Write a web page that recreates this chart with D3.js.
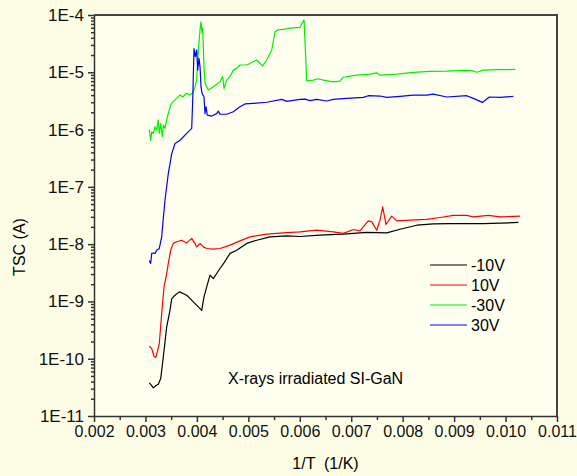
<!DOCTYPE html>
<html>
<head>
<meta charset="utf-8">
<script src="https://cdn.jsdelivr.net/npm/d3@7"></script>
<style>
  body { margin: 0; background: #fdfde6; }
  svg { display: block; font-family: Arial, "Liberation Sans", sans-serif; }
</style>
</head>
<body>
<div id="chart"></div>
<script>
// values: [1/T (1/K), TSC (A)]
var seriesNames = ["-10V", "10V", "-30V", "30V"];
var seriesColors = ["#000000", "#ff0000", "#00ee00", "#0000ff"];
var xTicks = [0.002, 0.003, 0.004, 0.005, 0.006, 0.007, 0.008, 0.009, 0.010, 0.011];
var yTicks = [1e-11, 1e-10, 1e-9, 1e-8, 1e-7, 1e-6, 1e-5, 1e-4];

var minus10V = [
  [0.003075, 3.8e-11], [0.003122, 3.4e-11], [0.003153, 3.1e-11], [0.003205, 3.4e-11],
  [0.003250, 3.57e-11], [0.003297, 4.5e-11], [0.003347, 1.07e-10], [0.003413, 3.6e-10],
  [0.003477, 7.0e-10], [0.003511, 1.12e-9], [0.003575, 1.28e-9], [0.003658, 1.47e-9],
  [0.003730, 1.38e-9], [0.003802, 1.28e-9], [0.003870, 1.12e-9], [0.003930, 9.8e-10],
  [0.004094, 7.0e-10], [0.004138, 1.2e-9], [0.004191, 1.79e-9], [0.004255, 2.87e-9],
  [0.004319, 2.5e-9], [0.004385, 3.07e-9], [0.004449, 3.76e-9], [0.004527, 4.7e-9],
  [0.004644, 6.9e-9], [0.004774, 7.8e-9], [0.004969, 1.03e-8], [0.005163, 1.17e-8],
  [0.005421, 1.34e-8], [0.005746, 1.39e-8], [0.006005, 1.36e-8], [0.006393, 1.44e-8],
  [0.006846, 1.5e-8], [0.007301, 1.6e-8], [0.007690, 1.57e-8], [0.007949, 1.82e-8],
  [0.008273, 2.14e-8], [0.008596, 2.26e-8], [0.008921, 2.28e-8], [0.009568, 2.28e-8],
  [0.009893, 2.32e-8], [0.010249, 2.39e-8]
];

var plus10V = [
  [0.003075, 1.65e-10], [0.003122, 1.5e-10], [0.003166, 1.1e-10], [0.003199, 1.05e-10],
  [0.003230, 1.31e-10], [0.003269, 1.84e-10], [0.003316, 6.15e-10], [0.003361, 1.79e-9],
  [0.003413, 3.07e-9], [0.003444, 4.6e-9], [0.003491, 7.8e-9], [0.003542, 1.03e-8],
  [0.003608, 1.1e-8], [0.003705, 1.17e-8], [0.003802, 1.05e-8], [0.003899, 1.26e-8],
  [0.003963, 1.03e-8], [0.003996, 8.95e-9], [0.004061, 1.03e-8], [0.004125, 8.95e-9],
  [0.004191, 8.4e-9], [0.004319, 8.2e-9], [0.004449, 8.4e-9], [0.004644, 9.6e-9],
  [0.004838, 1.14e-8], [0.005033, 1.34e-8], [0.005357, 1.5e-8], [0.005680, 1.57e-8],
  [0.006005, 1.64e-8], [0.006329, 1.75e-8], [0.006652, 1.64e-8], [0.006846, 1.54e-8],
  [0.007041, 1.8e-8], [0.007171, 1.7e-8], [0.007332, 2.55e-8], [0.007399, 2.45e-8],
  [0.007496, 1.75e-8], [0.007560, 2.62e-8], [0.007612, 4.48e-8], [0.007676, 2.2e-8],
  [0.007787, 3.08e-8], [0.007885, 2.55e-8], [0.008143, 2.62e-8], [0.008468, 2.7e-8],
  [0.008726, 2.92e-8], [0.008985, 3.17e-8], [0.009245, 3.17e-8], [0.009374, 2.99e-8],
  [0.009665, 3.17e-8], [0.009893, 3.0e-8], [0.010282, 3.08e-8]
];

var minus30V = [
  [0.003075, 1.0e-6], [0.003102, 6.5e-7], [0.003122, 9.1e-7], [0.003153, 8.6e-7],
  [0.003186, 1.12e-6], [0.003219, 9.8e-7], [0.003250, 1.47e-6], [0.003269, 8.6e-7],
  [0.003297, 1.28e-6], [0.003328, 7.5e-7], [0.003347, 1.2e-6], [0.003380, 1.05e-6],
  [0.003413, 1.47e-6], [0.003444, 1.9e-6], [0.003491, 2.7e-6], [0.003542, 3.1e-6],
  [0.003608, 3.5e-6], [0.003672, 4.0e-6], [0.003724, 3.7e-6], [0.003802, 4.3e-6],
  [0.003866, 4.0e-6], [0.003919, 4.4e-6], [0.003963, 5.6e-6], [0.003996, 7.3e-6],
  [0.004028, 2.45e-5], [0.004061, 5.5e-5], [0.004080, 7.6e-5], [0.004100, 4.8e-5],
  [0.004113, 5.9e-5], [0.004138, 1.25e-5], [0.004158, 6.4e-6], [0.004222, 4.9e-6],
  [0.004319, 5.6e-6], [0.004449, 6.8e-6], [0.004502, 8.4e-6], [0.004527, 5.2e-6],
  [0.004580, 7.3e-6], [0.004644, 8.4e-6], [0.004708, 1.09e-5], [0.004774, 1.17e-5],
  [0.004838, 1.34e-5], [0.004969, 1.34e-5], [0.005163, 1.64e-5], [0.005280, 1.29e-5],
  [0.005357, 1.64e-5], [0.005455, 2.45e-5], [0.005519, 5.1e-5], [0.005583, 5.5e-5],
  [0.005680, 5.6e-5], [0.005810, 5.9e-5], [0.006005, 6.1e-5], [0.006069, 7.9e-5],
  [0.006083, 8.2e-5], [0.006135, 7.1e-6], [0.006263, 7.3e-6], [0.006360, 7.7e-6],
  [0.006458, 7.3e-6], [0.006652, 6.8e-6], [0.006782, 7.0e-6], [0.006846, 8.2e-6],
  [0.007107, 8.9e-6], [0.007365, 9.3e-6], [0.007496, 9.8e-6], [0.007560, 8.9e-6],
  [0.007885, 9.3e-6], [0.008207, 1.0e-5], [0.008532, 1.04e-5], [0.008857, 1.05e-5],
  [0.009179, 1.08e-5], [0.009343, 1.07e-5], [0.009440, 1.0e-5], [0.009568, 1.09e-5],
  [0.009829, 1.11e-5], [0.010190, 1.12e-5]
];

var plus30V = [
  [0.003075, 5.2e-9], [0.003102, 4.6e-9], [0.003122, 6.9e-9], [0.003153, 7.0e-9],
  [0.003186, 6.9e-9], [0.003219, 7.8e-9], [0.003269, 8.4e-9], [0.003316, 1.34e-8],
  [0.003332, 2.0e-8], [0.003380, 5.9e-8], [0.003444, 1.7e-7], [0.003511, 3.8e-7],
  [0.003575, 5.7e-7], [0.003672, 6.5e-7], [0.003802, 8.6e-7], [0.003899, 1.05e-6],
  [0.003919, 3.27e-6], [0.003944, 2.6e-5], [0.003969, 1.87e-5], [0.003996, 2.45e-5],
  [0.004016, 1.09e-5], [0.004041, 1.75e-5], [0.004061, 1.25e-5], [0.004080, 5.6e-6],
  [0.004100, 4.3e-6], [0.004138, 3.7e-6], [0.004158, 1.9e-6], [0.004177, 2.5e-6],
  [0.004203, 1.79e-6], [0.004288, 1.72e-6], [0.004385, 1.9e-6], [0.004416, 2.1e-6],
  [0.004449, 1.86e-6], [0.004580, 1.85e-6], [0.004708, 2.05e-6], [0.004838, 2.5e-6],
  [0.004935, 2.8e-6], [0.005097, 2.87e-6], [0.005357, 3.0e-6], [0.005649, 3.37e-6],
  [0.005746, 3.1e-6], [0.006005, 3.37e-6], [0.006102, 3.4e-6], [0.006199, 3.2e-6],
  [0.006329, 3.37e-6], [0.006524, 3.15e-6], [0.006652, 3.37e-6], [0.006913, 3.5e-6],
  [0.007235, 3.65e-6], [0.007332, 3.9e-6], [0.007560, 3.85e-6], [0.007690, 3.65e-6],
  [0.007949, 3.8e-6], [0.008207, 4.0e-6], [0.008468, 4.0e-6], [0.008596, 4.17e-6],
  [0.008857, 3.7e-6], [0.009245, 3.9e-6], [0.009374, 3.5e-6], [0.009549, 2.98e-6],
  [0.009685, 3.7e-6], [0.009893, 3.65e-6], [0.010152, 3.8e-6]
];

var allSeries = [minus10V, plus10V, minus30V, plus30V];

const width = 577, height = 476;
const margin = {left: 94, right: 20, top: 15, bottom: 60};

const svg = d3.select("#chart")
  .append("svg")
    .attr("width", width)
    .attr("height", height);

svg.append("rect")
  .attr("width", width).attr("height", height)
  .attr("fill", "#fdfde6");

const x = d3.scaleLinear()
  .domain([0.002, 0.011])
  .range([margin.left, width - margin.right]);

const y = d3.scaleLog()
  .domain([1e-11, 1e-4])
  .range([height - margin.bottom, margin.top]);

// plot area
svg.append("rect")
  .attr("x", x(0.002)).attr("y", y(1e-4))
  .attr("width", x(0.011) - x(0.002))
  .attr("height", y(1e-11) - y(1e-4))
  .attr("fill", "#fffff0");

// curves
const line = d3.line()
  .x(function(d) { return x(d[0]); })
  .y(function(d) { return y(d[1]); });

allSeries.forEach(function(s, i) {
  svg.append("path")
    .datum(s)
    .attr("d", line)
    .attr("fill", "none")
    .attr("stroke", seriesColors[i])
    .attr("stroke-width", 1.2)
    .attr("stroke-linejoin", "round");
});

// x axis, major + minor ticks
const xMinor = d3.range(0.0025, 0.011, 0.001);
svg.append("g")
  .attr("transform", "translate(0," + y(1e-11) + ")")
  .call(d3.axisBottom(x).tickValues(xMinor).tickSize(4).tickFormat(""))
  .call(function(g) { g.select(".domain").remove(); });

const xAxis = svg.append("g")
  .attr("transform", "translate(0," + y(1e-11) + ")")
  .call(d3.axisBottom(x).tickValues(xTicks).tickSize(6).tickSizeOuter(0).tickPadding(4)
    .tickFormat(d3.format(".3f")));
xAxis.selectAll("text").attr("font-size", 16).attr("fill", "#111").attr("font-family", "Arial, 'Liberation Sans', sans-serif");

// y axis, minor log ticks
var yMinor = [];
yTicks.slice(0, -1).forEach(function(t) {
  for (var k = 2; k <= 9; k++) yMinor.push(t * k);
});
svg.append("g")
  .attr("transform", "translate(" + x(0.002) + ",0)")
  .call(d3.axisLeft(y).tickValues(yMinor).tickSize(3).tickFormat(""))
  .call(function(g) { g.select(".domain").remove(); });

const yAxis = svg.append("g")
  .attr("transform", "translate(" + x(0.002) + ",0)")
  .call(d3.axisLeft(y).tickValues(yTicks).tickSize(6).tickSizeOuter(0).tickPadding(4)
    .tickFormat(function(d) { return "1E" + Math.round(Math.log10(d)); }));
yAxis.selectAll("text").attr("font-size", 17).attr("fill", "#111").attr("font-family", "Arial, 'Liberation Sans', sans-serif");

svg.selectAll(".domain, .tick line").attr("stroke", "#333").attr("stroke-width", 1.5);

// top and right frame
svg.append("path")
  .attr("d", "M" + x(0.002) + "," + y(1e-4) + "H" + x(0.011) + "V" + y(1e-11))
  .attr("fill", "none")
  .attr("stroke", "#444")
  .attr("stroke-width", 2);

// axis titles
svg.append("text")
  .attr("x", (x(0.002) + x(0.011)) / 2)
  .attr("y", 469)
  .attr("text-anchor", "middle")
  .attr("font-size", 16)
  .style("white-space", "pre")
  .text("1/T  (1/K)");

svg.append("text")
  .attr("transform", "translate(25,247) rotate(-90)")
  .attr("text-anchor", "middle")
  .attr("font-size", 16)
  .text("TSC (A)");

// annotation
svg.append("text")
  .attr("x", 228)
  .attr("y", 384)
  .attr("font-size", 16)
  .text("X-rays irradiated SI-GaN");

// legend
const legend = svg.append("g").attr("transform", "translate(430,265)");
seriesNames.forEach(function(n, i) {
  legend.append("line")
    .attr("x1", 0).attr("x2", 37)
    .attr("y1", i * 20).attr("y2", i * 20)
    .attr("stroke", seriesColors[i])
    .attr("stroke-width", 1.2);
  legend.append("text")
    .attr("x", 41).attr("y", i * 20 + 6)
    .attr("font-size", 16)
    .text(n);
});
</script>
</body>
</html>
